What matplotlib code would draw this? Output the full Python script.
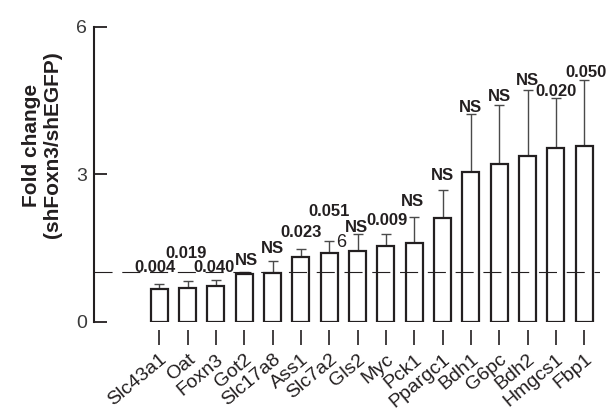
import matplotlib
matplotlib.use('Agg')
import matplotlib.pyplot as plt
import numpy as np

plt.rcParams['font.family'] = ['Liberation Sans', 'DejaVu Sans']
plt.rcParams['lines.scale_dashes'] = False

genes = ['Slc43a1', 'Oat', 'Foxn3', 'Got2', 'Slc17a8', 'Ass1', 'Slc7a2', 'Gls2',
         'Myc', 'Pck1', 'Ppargc1', 'Bdh1', 'G6pc', 'Bdh2', 'Hmgcs1', 'Fbp1']
fold_change = [0.66, 0.69, 0.72, 0.97, 0.99, 1.31, 1.40, 1.44,
               1.54, 1.60, 2.11, 3.04, 3.20, 3.36, 3.53, 3.58]
err_top = [0.76, 0.82, 0.85, 1.01, 1.24, 1.48, 1.64, 1.78,
           1.78, 2.12, 2.68, 4.22, 4.40, 4.71, 4.55, 4.91]
p_labels = ['0.004', '0.019', '0.040', 'NS', 'NS', '0.023', '0.051', 'NS',
            '0.009', 'NS', 'NS', 'NS', 'NS', 'NS', '0.020', '0.050']
yticks = [0, 3, 6]

# annotation placement (as in the original figure)
label_y = [1.01, 1.29, 1.01, 1.16, 1.40, 1.72, 2.15, 1.82,
           1.97, 2.35, 2.88, 4.27, 4.49, 4.82, 4.58, 4.97]
label_dx = [-0.15, -0.06, -0.07, 0.06, 0, 0, 0, -0.04,
            0.05, -0.05, 0, 0, 0, 0, 0, 0.05]

ink = '#231f20'

fig = plt.figure(figsize=(6.07, 4.13), dpi=100)
ax = fig.add_axes([0.1549, 0.2215, 0.8336, 0.7139])

for s in ['top', 'right']:
    ax.spines[s].set_visible(False)
ax.spines['left'].set_linewidth(1.5)
ax.spines['left'].set_color(ink)
ax.spines['bottom'].set_position(('outward', 6))
ax.spines['bottom'].set_color('none')

x = np.arange(len(genes))
fc = np.array(fold_change)
up = np.array(err_top) - fc

ax.errorbar(x, fc, yerr=[np.zeros_like(fc), up], fmt='none', ecolor='#4a4a4a',
            elinewidth=1.0, capsize=3.6, capthick=1.0, zorder=1)
ax.bar(x, fc, width=0.6, color='white', edgecolor=ink, linewidth=1.6, zorder=2)
ax.axhline(1, color=ink, lw=0.8, dashes=(13, 7), zorder=4)

for xi, dx, yl, lab in zip(x, label_dx, label_y, p_labels):
    ax.text(xi + dx, yl, lab, ha='center', va='baseline', fontsize=12,
            fontweight='bold', color=ink, zorder=5)
ax.text(6.24, 1.52, '6', ha='left', va='baseline', fontsize=13, color=ink)

ax.set_xlim(-2.305, 15.56)
ax.set_ylim(0, 6)
ax.tick_params(axis='y', direction='in', length=9.5, width=1.3, pad=5,
               labelsize=14, color=ink, labelcolor='#3a3a3a')
ax.tick_params(axis='x', direction='out', length=11, width=1.2, pad=4,
               labelsize=14, color=ink, labelcolor=ink)
ax.set_yticks(yticks)
ax.set_yticklabels([str(t) for t in yticks])
ax.set_xticks(x)
ax.set_xticklabels(genes, rotation=40, ha='right', va='top', rotation_mode='anchor')

fig.text(42 / 607, 1 - 145 / 413, 'Fold change\n(shFoxn3/shEGFP)', rotation=90,
         ha='center', va='center', fontsize=15, fontweight='bold', color=ink,
         linespacing=1.1)

fig.savefig('out.png', dpi=100)
